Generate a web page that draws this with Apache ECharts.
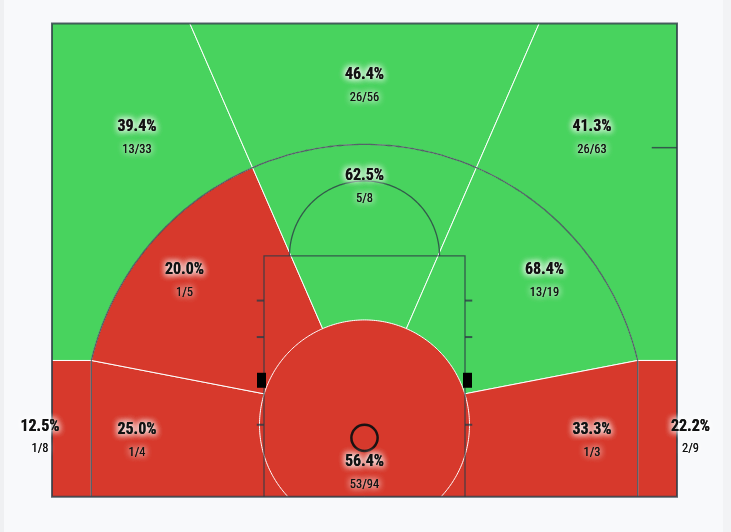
<!DOCTYPE html>
<html><head><meta charset="utf-8">
<script src="https://cdn.jsdelivr.net/npm/echarts@6/dist/echarts.min.js"></script>
<style>
html,body{margin:0;padding:0;background:#f8f9fb;overflow:hidden;}
#stripL{position:absolute;left:0;top:0;width:4px;height:532px;background:#eff0f2;}
#stripR{position:absolute;left:723px;top:0;width:8px;height:532px;background:#f2f3f5;}
#chart{position:absolute;left:0;top:0;width:731px;height:532px;}
</style></head>
<body>
<div id="stripL"></div><div id="stripR"></div>
<div id="chart"></div>
<script>
// ---- data ----
const zones = ['Left Corner 3','Left Wing 3','Top 3','Right Wing 3','Right Corner 3',
  'Left Baseline Mid','Left Wing Mid','Top Mid','Right Wing Mid','Right Baseline Mid','Restricted Area'];
const made = [1, 13, 26, 26, 2, 1, 1, 5, 13, 1, 53];
const attempts = [8, 33, 56, 63, 9, 4, 5, 8, 19, 3, 94];
const aboveAverage = [false, true, true, true, false, false, false, true, true, false, false];

// ---- court geometry (court units) ----
const C = [0, 10];
const R3 = 224.5, RIN = 84, CX = 218.5;
const CY = C[1] + Math.sqrt(R3 * R3 - CX * CX);
const A_L = 113.5, A_R = 66.5, A_BL = 162.8, A_BR = 17.2;
const A_CL = Math.atan2(CY - C[1], -CX) * 180 / Math.PI;
const A_CR = 180 - A_CL;
const FAR = 700, LOW = -140;
const X_MIN = -250, X_MAX = 250, Y_MIN = -47.5, Y_MAX = 331.3;
const LANE_X = 80.4, LANE_TOP = 145.3, FT_R = 60;

function pol(r, a) { const t = a * Math.PI / 180; return [C[0] + r * Math.cos(t), C[1] + r * Math.sin(t)]; }
function arcPts(cx, cy, r, a0, a1) {
  const n = Math.max(2, Math.ceil(Math.abs(a1 - a0)));
  const pts = [];
  for (let i = 0; i <= n; i++) { const t = (a0 + (a1 - a0) * i / n) * Math.PI / 180; pts.push([cx + r * Math.cos(t), cy + r * Math.sin(t)]); }
  return pts;
}
const P1 = [-CX, CY], P2 = [CX, CY], Q1 = pol(RIN, A_BL), Q2 = pol(RIN, A_BR);
const shapes = {
  'Left Corner 3': [[-400, LOW], [-CX, LOW], P1, [-400, CY]],
  'Left Wing 3': [C, pol(FAR, A_L), [-FAR, pol(FAR, A_L)[1]], [-FAR, CY], P1],
  'Top 3': [C, pol(FAR, A_L), pol(FAR, A_R)],
  'Right Wing 3': [C, P2, [FAR, CY], [FAR, pol(FAR, A_R)[1]], pol(FAR, A_R)],
  'Right Corner 3': [[400, LOW], [CX, LOW], P2, [400, CY]],
  'Left Baseline Mid': [P1, [-CX, LOW], [0, LOW], C, Q1],
  'Left Wing Mid': [C, Q1].concat(arcPts(C[0], C[1], R3, A_CL, A_L)),
  'Top Mid': [C].concat(arcPts(C[0], C[1], R3, A_L, A_R)),
  'Right Wing Mid': [C].concat(arcPts(C[0], C[1], R3, A_R, A_CR), [Q2]),
  'Right Baseline Mid': [C, Q2, P2, [CX, LOW], [0, LOW]],
  'Restricted Area': arcPts(C[0], C[1], RIN, 0, 360)
};
const labelAnchor = {
  'Left Corner 3': [-259.6, 8.5], 'Left Wing 3': [-182, 248.5], 'Top 3': [0, 290],
  'Right Wing 3': [182, 248.5], 'Right Corner 3': [260.8, 8.5],
  'Left Baseline Mid': [-182, 5.9], 'Left Wing Mid': [-144, 134], 'Top Mid': [0, 209],
  'Right Wing Mid': [144, 134], 'Right Baseline Mid': [182, 5.9], 'Restricted Area': [0, -20.1]
};

const GREEN = '#48d35e', RED = '#d7392c';
const LINE = 'rgba(45,60,70,0.8)';
const FONT = '"Roboto Condensed", "Liberation Sans Narrow", "DejaVu Sans Condensed", "Arial Narrow", sans-serif';

const zoneData = zones.map((z, i) => ({ name: z, value: [i, made[i], attempts[i]] }));

function clipOf(params) {
  const cs = params.coordSys;
  return { type: 'rect', shape: { x: cs.x, y: cs.y, width: cs.width, height: cs.height } };
}

function renderZone(params, api) {
  const i = api.value(0);
  const pts = shapes[zones[i]].map(p => api.coord(p));
  return {
    type: 'group',
    clipPath: clipOf(params),
    children: [{
      type: 'polygon',
      shape: { points: pts },
      style: { fill: aboveAverage[i] ? GREEN : RED, stroke: '#ffffff', lineWidth: 1 }
    }]
  };
}

function renderCourt(params, api) {
  const ln = (pts, w) => ({ type: 'polyline', shape: { points: pts.map(p => api.coord(p)) }, style: { stroke: LINE, lineWidth: w || 1.3, fill: null } });
  const ch = [];
  ch.push(ln([[-CX, Y_MIN], P1]));
  ch.push(ln([[CX, Y_MIN], P2]));
  ch.push(ln(arcPts(C[0], C[1], R3, A_CL, A_CR)));
  ch.push(ln([[-LANE_X, Y_MIN], [-LANE_X, LANE_TOP], [LANE_X, LANE_TOP], [LANE_X, Y_MIN]]));
  ch.push(ln(arcPts(0, LANE_TOP, FT_R, 0, 180)));
  [109.5, 80.3, 10.1].forEach(y => {
    ch.push(ln([[-LANE_X, y], [-LANE_X - 5.8, y]], 2));
    ch.push(ln([[LANE_X, y], [LANE_X + 5.8, y]], 2));
  });
  ch.push(ln([[229.8, 231.9], [X_MAX, 231.9]], 1.5));
  [[-86, -78.8], [78.8, 86]].forEach(b => {
    const a = api.coord([b[0], 51.7]), c = api.coord([b[1], 39.7]);
    ch.push({ type: 'rect', shape: { x: a[0], y: a[1], width: c[0] - a[0], height: c[1] - a[1] }, style: { fill: '#000' } });
  });
  const h = api.coord([0, 0]), h2 = api.coord([10.5, 0]);
  ch.push({ type: 'circle', shape: { cx: h[0], cy: h[1] + 0.5, r: h2[0] - h[0] }, style: { fill: null, stroke: '#1a1212', lineWidth: 2.5 } });
  const tl = api.coord([X_MIN, Y_MAX]), br = api.coord([X_MAX, Y_MIN]);
  ch.push({ type: 'rect', shape: { x: tl[0], y: tl[1], width: br[0] - tl[0], height: br[1] - tl[1] }, style: { fill: null, stroke: LINE, lineWidth: 2 } });
  return { type: 'group', children: ch };
}

function renderLabel(params, api) {
  const i = api.value(0);
  const m = api.value(1), a = api.value(2);
  const p = api.coord(labelAnchor[zones[i]]);
  const pct = (m / a * 100).toFixed(1) + '%';
  const glow = { textShadowColor: 'rgba(255,255,255,1)', textShadowBlur: 7 };
  const t = (txt, y, size, weight) => ({
    type: 'text', x: p[0], y: y,
    style: Object.assign({ text: txt, fill: '#111', fontSize: size, fontWeight: weight, fontFamily: FONT, align: 'center', verticalAlign: 'middle' }, glow)
  });
  return { type: 'group', children: [
    t(pct, p[1], 16, 'bold'), t(pct, p[1], 16, 'bold'), t(pct, p[1], 16, 'bold'),
    t(m + '/' + a, p[1] + 22.5, 12.5, 'normal'), t(m + '/' + a, p[1] + 22.5, 12.5, 'normal')
  ] };
}

const chart = echarts.init(document.getElementById('chart'), null, { renderer: 'canvas' });
chart.setOption({
  animation: false,
  backgroundColor: 'transparent',
  grid: { left: 52, right: 54, top: 23.5, bottom: 35.3 },
  xAxis: { type: 'value', min: X_MIN, max: X_MAX, show: false },
  yAxis: { type: 'value', min: Y_MIN, max: Y_MAX, show: false },
  series: [
    { type: 'custom', name: 'zones', renderItem: renderZone, data: zoneData, z: 1, silent: true },
    { type: 'custom', name: 'court', renderItem: renderCourt, data: [[0, 0]], z: 2, silent: true },
    { type: 'custom', name: 'labels', renderItem: renderLabel, data: zoneData, z: 3, silent: true }
  ]
});
</script>
</body></html>
